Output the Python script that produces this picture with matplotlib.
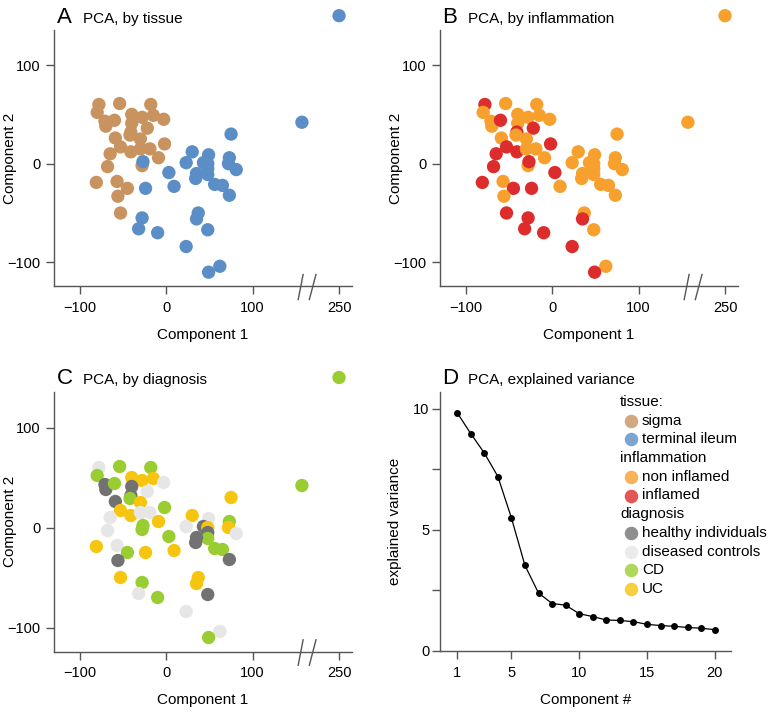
import numpy as np
import matplotlib
matplotlib.use("Agg")
import matplotlib.pyplot as plt
import matplotlib.transforms as mtransforms

plt.rcParams['font.family'] = ['Liberation Sans', 'DejaVu Sans']

# ---------------- data ----------------
pc1 = [-78, -80, -54, -18, -71, -70, -60, -40, -28, -15, -3, -40, -22, -41, -42,
       -30, -59, -53, -41, -30, -19, -2, -65, -68, -9, -28, -81, -57, -45, -56, -53,
       -27, -24, 3, 9, -28, -32, -10, 75, 30, 23, 49, 43, 48, 48, 48, 35, 34,
       73, 72, 81, 56, 65, 73, 37, 35, 48, 23, 62, 49, 157, 250]
pc2 = [60, 52, 61, 60, 43, 38, 44, 50, 47, 49, 45, 41, 36, 32, 29,
       25, 26, 17, 12, 15, 15, 20, 10, -3, 6, -2, -19, -18, -25, -33, -50,
       2, -25, -9, -23, -55, -66, -70, 30, 12, 1, 9, 1, 0, -5, -11, -10, -15,
       6, 0, -6, -21, -22, -32, -50, -56, -67, -84, -104, -110, 42, 150]
tissue = ['sigma'] * 31 + ['terminal ileum'] * 31
inflammation = ['inflamed', 'non inflamed', 'non inflamed', 'non inflamed', 'non inflamed',
                'non inflamed', 'inflamed', 'non inflamed', 'non inflamed', 'non inflamed',
                'non inflamed', 'non inflamed', 'inflamed', 'inflamed', 'non inflamed',
                'non inflamed', 'non inflamed', 'inflamed', 'inflamed', 'non inflamed',
                'non inflamed', 'inflamed', 'inflamed', 'inflamed', 'non inflamed',
                'non inflamed', 'inflamed', 'non inflamed', 'inflamed', 'non inflamed',
                'inflamed',
                'inflamed', 'inflamed', 'inflamed', 'non inflamed', 'inflamed',
                'inflamed', 'inflamed', 'non inflamed', 'non inflamed', 'non inflamed',
                'non inflamed', 'non inflamed', 'non inflamed', 'non inflamed', 'non inflamed',
                'non inflamed', 'non inflamed', 'non inflamed', 'non inflamed', 'non inflamed',
                'non inflamed', 'non inflamed', 'non inflamed', 'non inflamed', 'inflamed',
                'non inflamed', 'inflamed', 'non inflamed', 'inflamed', 'non inflamed',
                'non inflamed']
diagnosis = ['diseased controls', 'CD', 'CD', 'CD', 'healthy individuals',
             'healthy individuals', 'CD', 'UC', 'UC', 'UC',
             'diseased controls', 'healthy individuals', 'diseased controls', 'healthy individuals', 'CD',
             'UC', 'healthy individuals', 'UC', 'UC', 'diseased controls',
             'diseased controls', 'CD', 'diseased controls', 'diseased controls', 'UC',
             'CD', 'UC', 'diseased controls', 'CD', 'healthy individuals',
             'UC',
             'CD', 'UC', 'CD', 'UC', 'CD',
             'diseased controls', 'CD', 'UC', 'UC', 'diseased controls',
             'diseased controls', 'healthy individuals', 'UC', 'healthy individuals', 'CD',
             'healthy individuals', 'healthy individuals', 'CD', 'UC', 'diseased controls',
             'CD', 'CD', 'healthy individuals', 'UC', 'UC',
             'healthy individuals', 'diseased controls', 'diseased controls', 'CD', 'CD',
             'CD']

component = list(range(1, 21))
explained_variance = [9.83, 8.97, 8.17, 7.20, 5.49, 3.53, 2.39, 1.96, 1.89, 1.54,
                      1.42, 1.28, 1.26, 1.21, 1.10, 1.05, 1.02, 0.97, 0.94, 0.88]

pca_xticks = [-100, 0, 100, 250]
pca_yticks = [-100, 0, 100]

colors = {
    'sigma': '#C99360', 'terminal ileum': '#5B8EC6',
    'non inflamed': '#F7A02E', 'inflamed': '#DD2C2C',
    'healthy individuals': '#727272', 'diseased controls': '#E6E6E6',
    'CD': '#9ACD32', 'UC': '#F6C510',
}
legend_groups = [('tissue:', ['sigma', 'terminal ileum']),
                 ('inflammation', ['non inflamed', 'inflamed']),
                 ('diagnosis', ['healthy individuals', 'diseased controls', 'CD', 'UC'])]

# ---------------- layout ----------------
W, H = 771, 712
fig = plt.figure(figsize=(W / 100, H / 100), dpi=100)

def box(l, t, r, b):
    return [l / W, 1 - b / H, (r - l) / W, (b - t) / H]

spine_col = '#555555'
FS = 10.5

def style(ax):
    for s in ['top', 'right']:
        ax.spines[s].set_visible(False)
    for s in ['left', 'bottom']:
        ax.spines[s].set_color(spine_col)
        ax.spines[s].set_linewidth(1.0)
    ax.tick_params(direction='out', length=5.5, width=1.0, color=spine_col,
                   labelsize=FS, pad=4)

def place_labels(ax, xlab, ylab, xlab_y, ylab_x):
    ax.set_xlabel(xlab, fontsize=11, va='center')
    ax.set_ylabel(ylab, fontsize=11, va='center')
    ax.xaxis.set_label_coords(0.5, xlab_y)
    ax.yaxis.set_label_coords(ylab_x, 0.5)

# break mapping: values above the break are shifted by 50
BREAK_AT, SHIFT = 200, 50
def xdisp(v):
    v = np.asarray(v, dtype=float)
    return np.where(v > BREAK_AT, v - SHIFT, v)

def pca_panel(pix, groups, letter, title, lx, ty):
    l, t, r, b = pix
    ax = fig.add_axes(box(l, t, r, b))
    style(ax)
    xd = xdisp(pc1)
    y = np.asarray(pc2, dtype=float)
    cols = [colors[g] for g in groups]
    ax.scatter(xd, y, s=92, c=cols, linewidths=0, clip_on=False, zorder=3)
    ax.set_xlim(-130, 215)
    ax.set_ylim(-124, 135.5)
    ax.set_xticks(xdisp(pca_xticks))
    ax.set_xticklabels([str(v).replace('-', '\u2212') for v in pca_xticks])
    ax.set_yticks(pca_yticks)
    ax.set_yticklabels([str(v).replace('-', '\u2212') for v in pca_yticks])
    ax.tick_params(axis='x', pad=5)
    place_labels(ax, 'Component 1', 'Component 2', -48.5 / (b - t), -44 / (r - l))
    # axis break marks
    tr = mtransforms.blended_transform_factory(ax.transData, ax.transAxes)
    for x0, x1 in [(152.7, 158.4), (165.6, 173.3)]:
        ax.plot([x0, x1], [-0.053, 0.045], color=spine_col, lw=1.0,
                transform=tr, clip_on=False)
    fig.text(lx, ty, letter, fontsize=16, va='baseline', ha='left')
    fig.text(lx + 26 / W, ty, title, fontsize=11, va='baseline', ha='left')
    return ax

pca_panel((54, 30, 352, 286), tissue, 'A', 'PCA, by tissue', 57 / W, 1 - 23 / H)
pca_panel((440, 30, 738, 286), inflammation, 'B', 'PCA, by inflammation', 442 / W, 1 - 23 / H)
pca_panel((54, 392, 352, 651.5), diagnosis, 'C', 'PCA, by diagnosis', 57 / W, 1 - 384.5 / H)

# ---------------- panel D ----------------
axd = fig.add_axes(box(440, 391.7, 731, 651))
style(axd)
axd.plot(component, explained_variance, color='black', lw=0.9, marker='o',
         markersize=5, markerfacecolor='black', markeredgewidth=0, clip_on=False, zorder=3)
axd.set_xlim(-0.27, 21.2)
axd.set_ylim(0, 10.7)
axd.set_xticks([1, 5, 10, 15, 20])
axd.set_yticks([0, 2.5, 5, 7.5, 10])
axd.set_yticklabels(['0', '', '5', '', '10'])
axd.tick_params(axis='x', pad=5)
axd.tick_params(axis='y', pad=2)
place_labels(axd, 'Component #', 'explained variance', -49 / 259.3, -45 / 291)
fig.text(442 / W, 1 - 384.5 / H, 'D', fontsize=16, va='baseline', ha='left')
fig.text(468 / W, 1 - 384.5 / H, 'PCA, explained variance', fontsize=11, va='baseline', ha='left')

# legend (manual)
ax_w, ax_h = 291.0, 259.3
row = 0
y0 = (651 - 402) / ax_h
dy = 18.7 / ax_h
for header, items in legend_groups:
    axd.text((620 - 440) / ax_w, y0 - row * dy, header, transform=axd.transAxes,
             fontsize=11, va='center', ha='left')
    row += 1
    for it in items:
        axd.scatter([(631 - 440) / ax_w], [y0 - row * dy], s=95, color=colors[it],
                    alpha=0.8, linewidths=0, transform=axd.transAxes, clip_on=False)
        axd.text((642 - 440) / ax_w, y0 - row * dy, it, transform=axd.transAxes,
                 fontsize=11, va='center', ha='left')
        row += 1

fig.savefig('out.png', dpi=100)
